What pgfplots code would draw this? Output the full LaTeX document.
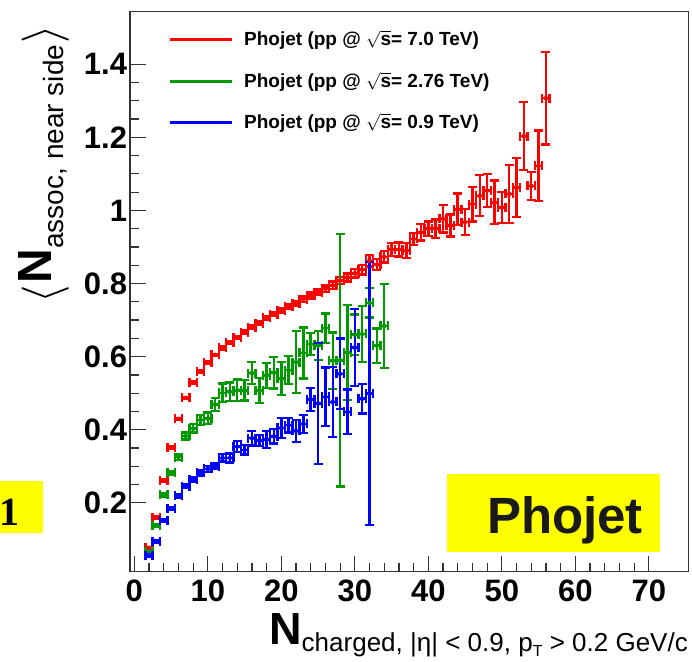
\documentclass[border=0pt]{standalone}
\usepackage{graphicx}
\usepackage{pgfplots}
\usepackage{pgfplotstable}
\pgfplotsset{compat=1.18}
\usepackage{fontspec}
\setmainfont{Liberation Sans}
\newfontfamily\serifb{Liberation Serif}
\definecolor{rred}{RGB}{255,0,0}
\definecolor{rgreen}{RGB}{0,153,0}
\definecolor{rblue}{RGB}{0,0,255}
\definecolor{ryellow}{RGB}{255,255,0}

\pgfplotstableread{
x y ex ey
2 0.077 0.5 0.003
3 0.160 0.5 0.003
4 0.262 0.5 0.003
5 0.352 0.5 0.003
6 0.430 0.5 0.003
7 0.487 0.5 0.003
8 0.529 0.5 0.003
9 0.560 0.5 0.003
10 0.584 0.5 0.003
11 0.605 0.5 0.003
12 0.624 0.5 0.004
13 0.638 0.5 0.004
14 0.652 0.5 0.004
15 0.667 0.5 0.004
16 0.680 0.5 0.005
17 0.692 0.5 0.005
18 0.706 0.5 0.005
19 0.716 0.5 0.005
20 0.727 0.5 0.006
21 0.737 0.5 0.006
22 0.746 0.5 0.007
23 0.757 0.5 0.007
24 0.767 0.5 0.008
25 0.776 0.5 0.008
26 0.786 0.5 0.009
27 0.795 0.5 0.010
28 0.808 0.5 0.010
29 0.816 0.5 0.011
30 0.828 0.5 0.012
31 0.838 0.5 0.013
32 0.862 0.5 0.016
33 0.852 0.5 0.015
34 0.873 0.5 0.016
35 0.893 0.5 0.017
36 0.893 0.5 0.019
37 0.890 0.5 0.020
38 0.922 0.5 0.016
39 0.940 0.5 0.022
40 0.950 0.5 0.020
41 0.950 0.5 0.025
42 0.977 0.5 0.038
43 0.959 0.5 0.030
44 1.003 0.5 0.043
45 0.968 0.5 0.035
46 1.017 0.5 0.047
47 1.040 0.5 0.056
48 1.054 0.5 0.045
49 1.022 0.5 0.060
50 1.008 0.5 0.043
51 1.045 0.5 0.079
52 1.063 0.5 0.081
53 1.203 0.5 0.093
54 1.067 0.5 0.038
55 1.122 0.5 0.097
56 1.307 0.5 0.127
}\redtab

\pgfplotstableread{
x y ex ey
2 0.066 0.5 0.003
3 0.138 0.5 0.004
4 0.222 0.5 0.005
5 0.282 0.5 0.006
6 0.325 0.5 0.007
7 0.383 0.5 0.010
8 0.404 0.5 0.012
9 0.427 0.5 0.014
10 0.431 0.5 0.016
11 0.469 0.5 0.018
12 0.501 0.5 0.025
13 0.504 0.5 0.025
14 0.508 0.5 0.030
15 0.508 0.5 0.028
16 0.555 0.5 0.030
17 0.508 0.5 0.034
18 0.549 0.5 0.034
19 0.556 0.5 0.043
20 0.540 0.5 0.045
21 0.563 0.5 0.038
22 0.585 0.5 0.085
23 0.610 0.5 0.070
24 0.634 0.5 0.030
25 0.630 0.5 0.040
26 0.678 0.5 0.040
27 0.589 0.5 0.077
28 0.590 0.5 0.345
29 0.612 0.5 0.130
30 0.660 0.5 0.055
31 0.662 0.5 0.077
32 0.747 0.5 0.040
33 0.630 0.5 0.047
34 0.684 0.5 0.115
}\greentab

\pgfplotstableread{
x y ex ey
2 0.056 0.5 0.003
3 0.094 0.5 0.003
4 0.151 0.5 0.004
5 0.185 0.5 0.004
6 0.219 0.5 0.005
7 0.246 0.5 0.005
8 0.265 0.5 0.006
9 0.282 0.5 0.007
10 0.293 0.5 0.008
11 0.300 0.5 0.008
12 0.323 0.5 0.010
13 0.323 0.5 0.012
14 0.354 0.5 0.015
15 0.345 0.5 0.013
16 0.377 0.5 0.020
17 0.370 0.5 0.015
18 0.373 0.5 0.023
19 0.382 0.5 0.020
20 0.405 0.5 0.028
21 0.413 0.5 0.020
22 0.397 0.5 0.030
23 0.416 0.5 0.025
24 0.483 0.5 0.032
25 0.472 0.5 0.165
26 0.490 0.5 0.080
27 0.476 0.5 0.095
28 0.553 0.5 0.097
29 0.449 0.5 0.061
30 0.625 0.5 0.106
31 0.485 0.5 0.040
32 0.499 0.5 0.360
}\bluetab

\begin{document}
\begin{tikzpicture}[x=1pt,y=1pt]
\path[use as bounding box] (0,0) rectangle (692,661);
\begin{axis}[
  at={(130pt,89.3pt)}, anchor=south west,
  scale only axis, width=558.7pt, height=560.2pt,
  xmin=-0.585, xmax=75.43, ymin=0.0118, ymax=1.544,
  axis line style={black!80, line width=1.5pt},
  tick style={black!80, line width=1.2pt},
  major tick length=16pt, minor tick length=8.5pt,
  tick align=inside, xtick pos=bottom, ytick pos=left,
  xtick={0,10,20,30,40,50,60,70}, minor x tick num=4,
  ytick={0.2,0.4,0.6,0.8,1,1.2,1.4}, minor y tick num=3,
  /pgf/number format/assume math mode=true,
  ticklabel style={font=\fontsize{31}{31}\selectfont\bfseries, inner sep=0pt, outer sep=0pt},
  xticklabel style={yshift=-8pt},
  yticklabel style={xshift=-3pt},
  error bars/error bar style={line width=2.5pt},
  error bars/error mark=|,
  error bars/error mark options={line width=2.4pt, mark size=4.5pt},
]
\addplot[rred, only marks, mark=none,
  error bars/.cd, x dir=both, x explicit, y dir=both, y explicit]
  table[x=x, y=y, x error=ex, y error=ey]{\redtab};
\addplot[rgreen, only marks, mark=none,
  error bars/.cd, x dir=both, x explicit, y dir=both, y explicit]
  table[x=x, y=y, x error=ex, y error=ey]{\greentab};
\addplot[rblue, only marks, mark=none,
  error bars/.cd, x dir=both, x explicit, y dir=both, y explicit]
  table[x=x, y=y, x error=ex, y error=ey]{\bluetab};
\end{axis}

% legend
\draw[rred, line width=3pt] (170,621) -- (232,621);
\draw[rgreen, line width=3pt] (170,579) -- (232,579);
\draw[rblue, line width=3pt] (170,538) -- (232,538);
\node[anchor=west, inner sep=0pt, font=\fontsize{19}{19}\selectfont\bfseries] at (244,621) {Phojet (pp @ $\sqrt{\mbox{\bfseries s}}$= 7.0 TeV)};
\node[anchor=west, inner sep=0pt, font=\fontsize{19}{19}\selectfont\bfseries] at (244,579) {Phojet (pp @ $\sqrt{\mbox{\bfseries s}}$= 2.76 TeV)};
\node[anchor=west, inner sep=0pt, font=\fontsize{19}{19}\selectfont\bfseries] at (244,538) {Phojet (pp @ $\sqrt{\mbox{\bfseries s}}$= 0.9 TeV)};

% y label
\node[rotate=90, inner sep=0pt] at (44,497) {\raisebox{-6pt}{\scalebox{1.9}{\fontsize{24}{24}\selectfont$\langle$}}\,{\fontsize{48}{48}\selectfont\bfseries N}{\fontsize{28}{28}\selectfont\raisebox{-12pt}{assoc, near side}}\,\raisebox{-6pt}{\scalebox{1.9}{\fontsize{24}{24}\selectfont$\rangle$}}};

% x label
\node[anchor=base east, inner sep=0pt] at (688,17) {{\fontsize{45}{45}\selectfont\bfseries N}\raisebox{-7pt}{\fontsize{26}{26}\selectfont charged, |η| < 0.9, p\raisebox{-5pt}{\fontsize{16}{16}\selectfont T} > 0.2 GeV/c}};

% Phojet box
\fill[ryellow] (447,109) rectangle (660,187);
\node[anchor=base, inner sep=0pt, text=black!90, font=\fontsize{51}{51}\selectfont\bfseries] at (565,128) {Phojet};

% left box
\fill[ryellow] (0,128) rectangle (43,180);
\node[anchor=base east, inner sep=0pt, font=\fontsize{40}{40}\selectfont\serifb\bfseries] at (20,136) {1};
\end{tikzpicture}
\end{document}
